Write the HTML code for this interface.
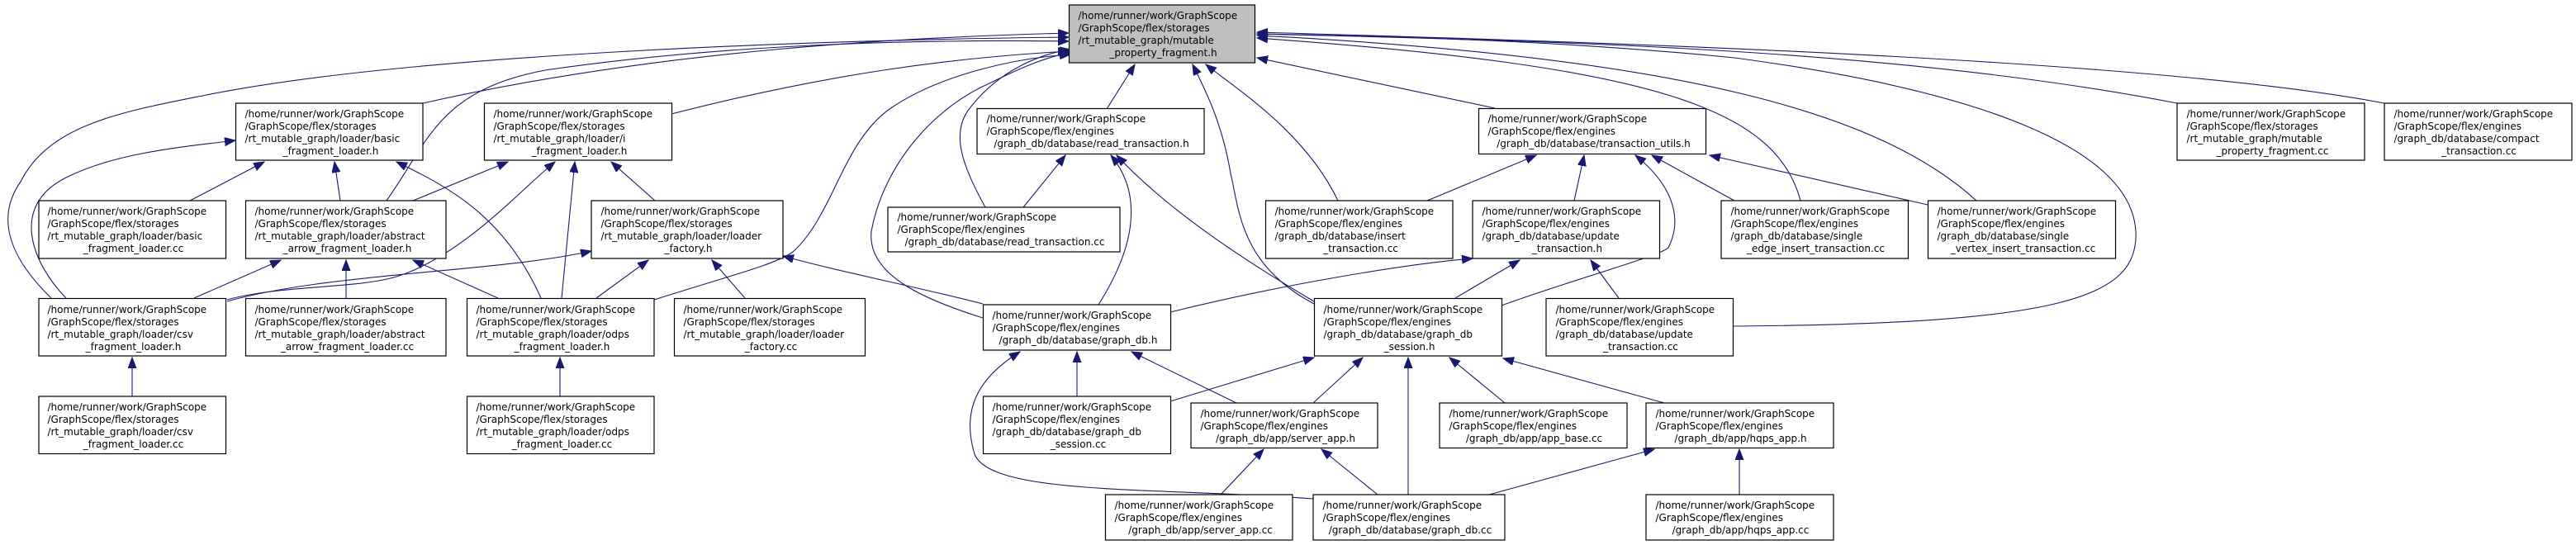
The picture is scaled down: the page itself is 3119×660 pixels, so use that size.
<!DOCTYPE html>
<html><head><meta charset="utf-8"><style>
html,body{margin:0;padding:0;background:#fff;}
svg{display:block;}
text{font-family:"DejaVu Sans","Liberation Sans",sans-serif;font-size:12px;fill:#000;transform:translate(1.5px,-1px);}
.b{fill:#fff;stroke:#000;stroke-width:1.2;}
.e{fill:none;stroke:#191970;stroke-width:1.1;}
</style></head><body>
<svg width="3119" height="660" viewBox="0 0 3119 660" xmlns="http://www.w3.org/2000/svg">
<defs><marker id="a" markerUnits="userSpaceOnUse" markerWidth="15" markerHeight="12" refX="13" refY="5" orient="auto"><path d="M0,0 L13,5 L0,10 Z" fill="#191970" stroke="#191970"/></marker></defs>
<g class="edges">
<path class="e" marker-end="url(#a)" d="M512,125 C800,60 1100,45 1294,40"/>
<path class="e" marker-end="url(#a)" d="M813,138 C1000,90 1150,70 1294,62"/>
<path class="e" marker-end="url(#a)" d="M468,243 C520,170 530,110 660,85 C900,50 1150,48 1294,50"/>
<path class="e" marker-end="url(#a)" d="M62,361 C20,320 -10,270 25,220 C60,150 150,135 250,115 C500,65 1000,48 1294,45"/>
<path class="e" marker-end="url(#a)" d="M80,361 C40,320 10,250 80,215 C140,185 220,178 285,170"/>
<path class="e" marker-end="url(#a)" d="M230,243 L320,196"/>
<path class="e" marker-end="url(#a)" d="M412,243 L405,196"/>
<path class="e" marker-end="url(#a)" d="M655,361 C610,260 540,225 480,196"/>
<path class="e" marker-end="url(#a)" d="M500,243 L615,196"/>
<path class="e" marker-end="url(#a)" d="M275,363 C340,345 430,350 480,335 C560,310 630,230 672,196"/>
<path class="e" marker-end="url(#a)" d="M680,361 L696,196"/>
<path class="e" marker-end="url(#a)" d="M793,243 L740,196"/>
<path class="e" marker-end="url(#a)" d="M235,361 L340,315"/>
<path class="e" marker-end="url(#a)" d="M419,361 L419,315"/>
<path class="e" marker-end="url(#a)" d="M603,361 L500,315"/>
<path class="e" marker-end="url(#a)" d="M275,365 C400,330 600,330 716,304"/>
<path class="e" marker-end="url(#a)" d="M722,361 L785,315"/>
<path class="e" marker-end="url(#a)" d="M902,361 L862,315"/>
<path class="e" marker-end="url(#a)" d="M1190,368 C1100,345 1020,330 948,310"/>
<path class="e" marker-end="url(#a)" d="M160,480 L160,433"/>
<path class="e" marker-end="url(#a)" d="M678,480 L678,433"/>
<path class="e" marker-end="url(#a)" d="M792,363 C880,335 940,320 960,305 C1010,260 1020,170 1080,130 C1140,90 1230,70 1296,66"/>
<path class="e" marker-end="url(#a)" d="M1340,132 L1374,78"/>
<path class="e" marker-end="url(#a)" d="M1193,251 C1165,200 1150,160 1175,130 C1210,85 1260,65 1296,60"/>
<path class="e" marker-end="url(#a)" d="M1190,385 C1110,360 1050,330 1055,280 C1070,200 1130,130 1200,100 C1240,80 1270,68 1296,64"/>
<path class="e" marker-end="url(#a)" d="M1591,368 C1500,320 1500,250 1490,210 C1480,150 1460,110 1444,78"/>
<path class="e" marker-end="url(#a)" d="M1620,243 C1580,160 1500,110 1460,78"/>
<path class="e" marker-end="url(#a)" d="M1810,131 L1522,70"/>
<path class="e" marker-end="url(#a)" d="M2180,243 C2150,130 2000,80 1522,46"/>
<path class="e" marker-end="url(#a)" d="M2393,243 C2280,140 2050,70 1522,43"/>
<path class="e" marker-end="url(#a)" d="M2636,125 C2300,60 1900,50 1522,41"/>
<path class="e" marker-end="url(#a)" d="M2887,125 C2600,70 1900,50 1522,39"/>
<path class="e" marker-end="url(#a)" d="M2098,395 C2500,392 2590,360 2586,280 C2580,180 2400,110 2100,70 C1900,50 1700,44 1522,41"/>
<path class="e" marker-end="url(#a)" d="M1239,251 L1290,188"/>
<path class="e" marker-end="url(#a)" d="M1330,369 C1380,290 1380,230 1345,188"/>
<path class="e" marker-end="url(#a)" d="M1591,365 C1480,300 1400,240 1352,188"/>
<path class="e" marker-end="url(#a)" d="M1728,243 L1860,188"/>
<path class="e" marker-end="url(#a)" d="M1906,243 L1918,188"/>
<path class="e" marker-end="url(#a)" d="M1818,370 C1900,340 2010,310 2020,300 C2040,260 2020,220 1980,188"/>
<path class="e" marker-end="url(#a)" d="M2100,243 L2000,188"/>
<path class="e" marker-end="url(#a)" d="M2334,248 L2070,188"/>
<path class="e" marker-end="url(#a)" d="M1417,378 C1550,345 1700,320 1783,313"/>
<path class="e" marker-end="url(#a)" d="M1762,361 L1840,315"/>
<path class="e" marker-end="url(#a)" d="M1960,361 L1926,315"/>
<path class="e" marker-end="url(#a)" d="M1304,480 L1304,426"/>
<path class="e" marker-end="url(#a)" d="M1497,488 L1370,426"/>
<path class="e" marker-end="url(#a)" d="M1590,604 C1400,590 1200,600 1180,550 C1165,500 1180,460 1235,426"/>
<path class="e" marker-end="url(#a)" d="M1417,486 L1591,433"/>
<path class="e" marker-end="url(#a)" d="M1590,488 L1650,433"/>
<path class="e" marker-end="url(#a)" d="M1705,599 L1705,433"/>
<path class="e" marker-end="url(#a)" d="M1822,488 L1755,433"/>
<path class="e" marker-end="url(#a)" d="M2015,488 L1820,434"/>
<path class="e" marker-end="url(#a)" d="M1478,599 L1530,544"/>
<path class="e" marker-end="url(#a)" d="M1668,599 L1600,544"/>
<path class="e" marker-end="url(#a)" d="M1803,599 L2003,544"/>
<path class="e" marker-end="url(#a)" d="M2106,599 L2106,544"/>
</g>
<g class="nodes">
<rect x="1294.5" y="6" width="225" height="70" style="fill:#bfbfbf;stroke:#000;stroke-width:1.2"/>
<text x="1304" y="24">/home/runner/work/GraphScope</text><text x="1304" y="39">/GraphScope/flex/storages</text><text x="1304" y="54">/rt_mutable_graph/mutable</text><text x="1407" y="69" text-anchor="middle">_property_fragment.h</text>

<rect class="b" x="285.5" y="125" width="226.5" height="69"/>
<text x="295" y="143">/home/runner/work/GraphScope</text><text x="295" y="158">/GraphScope/flex/storages</text><text x="295" y="173">/rt_mutable_graph/loader/basic</text><text x="399" y="188" text-anchor="middle">_fragment_loader.h</text>

<rect class="b" x="586.5" y="125" width="227" height="69"/>
<text x="596" y="143">/home/runner/work/GraphScope</text><text x="596" y="158">/GraphScope/flex/storages</text><text x="596" y="173">/rt_mutable_graph/loader/i</text><text x="700" y="188" text-anchor="middle">_fragment_loader.h</text>

<rect class="b" x="47" y="243" width="226.5" height="70"/>
<text x="56" y="261">/home/runner/work/GraphScope</text><text x="56" y="276">/GraphScope/flex/storages</text><text x="56" y="291">/rt_mutable_graph/loader/basic</text><text x="160" y="306" text-anchor="middle">_fragment_loader.cc</text>

<rect class="b" x="297.5" y="243" width="242.5" height="70"/>
<text x="307" y="261">/home/runner/work/GraphScope</text><text x="307" y="276">/GraphScope/flex/storages</text><text x="307" y="291">/rt_mutable_graph/loader/abstract</text><text x="419" y="306" text-anchor="middle">_arrow_fragment_loader.h</text>

<rect class="b" x="716" y="243" width="232" height="70"/>
<text x="726" y="261">/home/runner/work/GraphScope</text><text x="726" y="276">/GraphScope/flex/storages</text><text x="726" y="291">/rt_mutable_graph/loader/loader</text><text x="832" y="306" text-anchor="middle">_factory.h</text>

<rect class="b" x="47" y="361.5" width="226.5" height="69.5"/>
<text x="56" y="380">/home/runner/work/GraphScope</text><text x="56" y="395">/GraphScope/flex/storages</text><text x="56" y="410">/rt_mutable_graph/loader/csv</text><text x="160" y="425" text-anchor="middle">_fragment_loader.h</text>

<rect class="b" x="297.5" y="361.5" width="242.5" height="69.5"/>
<text x="307" y="380">/home/runner/work/GraphScope</text><text x="307" y="395">/GraphScope/flex/storages</text><text x="307" y="410">/rt_mutable_graph/loader/abstract</text><text x="419" y="425" text-anchor="middle">_arrow_fragment_loader.cc</text>

<rect class="b" x="565.5" y="361.5" width="226.5" height="69.5"/>
<text x="575" y="380">/home/runner/work/GraphScope</text><text x="575" y="395">/GraphScope/flex/storages</text><text x="575" y="410">/rt_mutable_graph/loader/odps</text><text x="679" y="425" text-anchor="middle">_fragment_loader.h</text>

<rect class="b" x="816.5" y="361.5" width="231" height="69.5"/>
<text x="826" y="380">/home/runner/work/GraphScope</text><text x="826" y="395">/GraphScope/flex/storages</text><text x="826" y="410">/rt_mutable_graph/loader/loader</text><text x="932" y="425" text-anchor="middle">_factory.cc</text>

<rect class="b" x="47" y="480" width="226.5" height="69.5"/>
<text x="56" y="498">/home/runner/work/GraphScope</text><text x="56" y="513">/GraphScope/flex/storages</text><text x="56" y="528">/rt_mutable_graph/loader/csv</text><text x="160" y="543" text-anchor="middle">_fragment_loader.cc</text>

<rect class="b" x="565.5" y="480" width="226.5" height="69.5"/>
<text x="575" y="498">/home/runner/work/GraphScope</text><text x="575" y="513">/GraphScope/flex/storages</text><text x="575" y="528">/rt_mutable_graph/loader/odps</text><text x="679" y="543" text-anchor="middle">_fragment_loader.cc</text>

<rect class="b" x="1183" y="131.5" width="275" height="55"/>
<text x="1193" y="149">/home/runner/work/GraphScope</text><text x="1193" y="164">/GraphScope/flex/engines</text><text x="1320" y="179" text-anchor="middle">/graph_db/database/read_transaction.h</text>

<rect class="b" x="1790.5" y="131.5" width="275" height="55"/>
<text x="1800" y="149">/home/runner/work/GraphScope</text><text x="1800" y="164">/GraphScope/flex/engines</text><text x="1928" y="179" text-anchor="middle">/graph_db/database/transaction_utils.h</text>

<rect class="b" x="1075" y="251" width="281" height="54"/>
<text x="1085" y="268">/home/runner/work/GraphScope</text><text x="1085" y="283">/GraphScope/flex/engines</text><text x="1215" y="298" text-anchor="middle">/graph_db/database/read_transaction.cc</text>

<rect class="b" x="1532.5" y="243" width="226.5" height="70"/>
<text x="1542" y="261">/home/runner/work/GraphScope</text><text x="1542" y="276">/GraphScope/flex/engines</text><text x="1542" y="291">/graph_db/database/insert</text><text x="1646" y="306" text-anchor="middle">_transaction.cc</text>

<rect class="b" x="1783" y="243" width="226.5" height="70"/>
<text x="1793" y="261">/home/runner/work/GraphScope</text><text x="1793" y="276">/GraphScope/flex/engines</text><text x="1793" y="291">/graph_db/database/update</text><text x="1896" y="306" text-anchor="middle">_transaction.h</text>

<rect class="b" x="2084" y="243" width="226.5" height="70"/>
<text x="2094" y="261">/home/runner/work/GraphScope</text><text x="2094" y="276">/GraphScope/flex/engines</text><text x="2094" y="291">/graph_db/database/single</text><text x="2197" y="306" text-anchor="middle">_edge_insert_transaction.cc</text>

<rect class="b" x="2334.5" y="243" width="227" height="70"/>
<text x="2344" y="261">/home/runner/work/GraphScope</text><text x="2344" y="276">/GraphScope/flex/engines</text><text x="2344" y="291">/graph_db/database/single</text><text x="2448" y="306" text-anchor="middle">_vertex_insert_transaction.cc</text>

<rect class="b" x="2636" y="125" width="227" height="69"/>
<text x="2646" y="143">/home/runner/work/GraphScope</text><text x="2646" y="158">/GraphScope/flex/storages</text><text x="2646" y="173">/rt_mutable_graph/mutable</text><text x="2750" y="188" text-anchor="middle">_property_fragment.cc</text>

<rect class="b" x="2887" y="125" width="227" height="69"/>
<text x="2897" y="143">/home/runner/work/GraphScope</text><text x="2897" y="158">/GraphScope/flex/engines</text><text x="2897" y="173">/graph_db/database/compact</text><text x="3000" y="188" text-anchor="middle">_transaction.cc</text>

<rect class="b" x="1190.5" y="369" width="227" height="55"/>
<text x="1200" y="387">/home/runner/work/GraphScope</text><text x="1200" y="402">/GraphScope/flex/engines</text><text x="1304" y="417" text-anchor="middle">/graph_db/database/graph_db.h</text>

<rect class="b" x="1591.5" y="361.5" width="227" height="69.5"/>
<text x="1601" y="380">/home/runner/work/GraphScope</text><text x="1601" y="395">/GraphScope/flex/engines</text><text x="1601" y="410">/graph_db/database/graph_db</text><text x="1705" y="425" text-anchor="middle">_session.h</text>

<rect class="b" x="1872" y="361.5" width="226.5" height="69.5"/>
<text x="1882" y="380">/home/runner/work/GraphScope</text><text x="1882" y="395">/GraphScope/flex/engines</text><text x="1882" y="410">/graph_db/database/update</text><text x="1985" y="425" text-anchor="middle">_transaction.cc</text>

<rect class="b" x="1190.5" y="480" width="227" height="69.5"/>
<text x="1200" y="498">/home/runner/work/GraphScope</text><text x="1200" y="513">/GraphScope/flex/engines</text><text x="1200" y="528">/graph_db/database/graph_db</text><text x="1304" y="543" text-anchor="middle">_session.cc</text>

<rect class="b" x="1442" y="488" width="226" height="54.5"/>
<text x="1452" y="506">/home/runner/work/GraphScope</text><text x="1452" y="521">/GraphScope/flex/engines</text><text x="1555" y="536" text-anchor="middle">/graph_db/app/server_app.h</text>

<rect class="b" x="1743" y="488" width="227" height="54.5"/>
<text x="1753" y="506">/home/runner/work/GraphScope</text><text x="1753" y="521">/GraphScope/flex/engines</text><text x="1856" y="536" text-anchor="middle">/graph_db/app/app_base.cc</text>

<rect class="b" x="1993" y="488" width="227" height="54.5"/>
<text x="2003" y="506">/home/runner/work/GraphScope</text><text x="2003" y="521">/GraphScope/flex/engines</text><text x="2106" y="536" text-anchor="middle">/graph_db/app/hqps_app.h</text>

<rect class="b" x="1338.5" y="599" width="226.5" height="55"/>
<text x="1348" y="617">/home/runner/work/GraphScope</text><text x="1348" y="632">/GraphScope/flex/engines</text><text x="1452" y="647" text-anchor="middle">/graph_db/app/server_app.cc</text>

<rect class="b" x="1590" y="599" width="232" height="55"/>
<text x="1600" y="617">/home/runner/work/GraphScope</text><text x="1600" y="632">/GraphScope/flex/engines</text><text x="1706" y="647" text-anchor="middle">/graph_db/database/graph_db.cc</text>

<rect class="b" x="1993" y="599" width="227" height="55"/>
<text x="2003" y="617">/home/runner/work/GraphScope</text><text x="2003" y="632">/GraphScope/flex/engines</text><text x="2106" y="647" text-anchor="middle">/graph_db/app/hqps_app.cc</text>
</g>
</svg>
</body></html>
